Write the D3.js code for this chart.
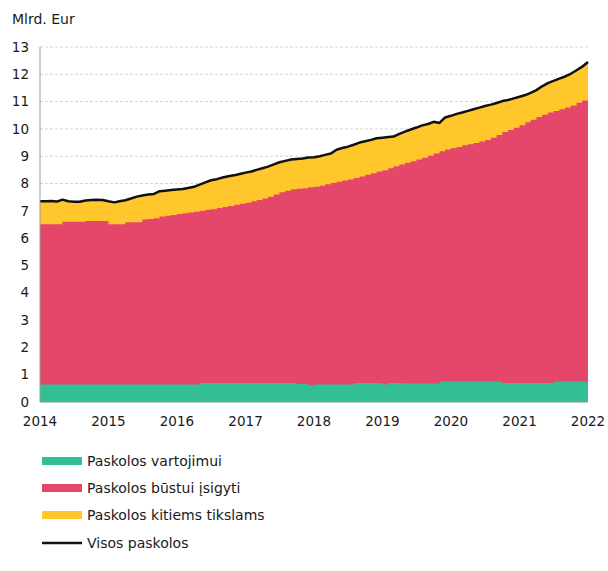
<!DOCTYPE html>
<html lang="lt">
<head>
  <meta charset="UTF-8">
  <title>Paskolos</title>
  <style>
    body { margin: 0; background: #fff; }
    svg text { font-family: "DejaVu Sans", Verdana, sans-serif; fill: #1a1a1a; }
  </style>
</head>
<body>
  <div id="chart"></div>
  <script src="https://d3js.org/d3.v7.min.js"></script>
  <script>
    // monthly, 2014-01 ... 2022-01
    const startYear = 2014;
    const yearTicks = [2014, 2015, 2016, 2017, 2018, 2019, 2020, 2021, 2022];
    const yTicks = [0, 1, 2, 3, 4, 5, 6, 7, 8, 9, 10, 11, 12, 13];

    const vartojimui = [
      0.64, 0.64, 0.64, 0.64, 0.64, 0.64, 0.64, 0.64, 0.64, 0.64, 0.64, 0.64,
      0.64, 0.64, 0.64, 0.64, 0.64, 0.64, 0.64, 0.64, 0.64, 0.64, 0.64, 0.64,
      0.64, 0.64, 0.64, 0.64, 0.70, 0.70, 0.70, 0.70, 0.70, 0.70, 0.70, 0.70,
      0.70, 0.70, 0.70, 0.70, 0.70, 0.70, 0.70, 0.70, 0.70, 0.66, 0.66, 0.60,
      0.64, 0.64, 0.64, 0.64, 0.64, 0.64, 0.64, 0.70, 0.70, 0.70, 0.70, 0.70,
      0.64, 0.70, 0.70, 0.70, 0.68, 0.68, 0.68, 0.68, 0.68, 0.68, 0.75, 0.75,
      0.75, 0.75, 0.75, 0.75, 0.75, 0.75, 0.75, 0.75, 0.75, 0.70, 0.70, 0.70,
      0.70, 0.70, 0.70, 0.70, 0.70, 0.70, 0.75, 0.75, 0.75, 0.75, 0.75, 0.75,
      0.85
    ];

    const bustui = [
      5.87, 5.87, 5.87, 5.87, 5.96, 5.96, 5.96, 5.96, 5.99, 5.99, 5.99, 5.99,
      5.87, 5.87, 5.87, 5.94, 5.94, 5.94, 6.04, 6.06, 6.09, 6.15, 6.18, 6.21,
      6.24, 6.27, 6.30, 6.33, 6.30, 6.34, 6.36, 6.40, 6.44, 6.48, 6.52, 6.56,
      6.60, 6.65, 6.70, 6.75, 6.82, 6.90, 6.98, 7.04, 7.09, 7.15, 7.17, 7.26,
      7.24, 7.28, 7.33, 7.38, 7.43, 7.47, 7.51, 7.50, 7.56, 7.62, 7.68, 7.74,
      7.85, 7.86, 7.93, 8.00, 8.08, 8.14, 8.20, 8.26, 8.34, 8.42, 8.43, 8.50,
      8.55, 8.59, 8.65, 8.69, 8.73, 8.79, 8.84, 8.93, 9.03, 9.19, 9.26, 9.34,
      9.43, 9.54, 9.64, 9.74, 9.82, 9.90, 9.91, 9.97, 10.03, 10.11, 10.21, 10.29,
      10.26
    ];

    const kitiems = [
      0.84, 0.84, 0.85, 0.83, 0.81, 0.75, 0.73, 0.73, 0.75, 0.77, 0.78, 0.77,
      0.84, 0.80, 0.84, 0.81, 0.87, 0.94, 0.88, 0.90, 0.89, 0.93, 0.92, 0.91,
      0.90, 0.89, 0.90, 0.91, 0.96, 1.00, 1.06, 1.06, 1.08, 1.09, 1.08, 1.09,
      1.10, 1.09, 1.10, 1.11, 1.10, 1.10, 1.10, 1.09, 1.09, 1.09, 1.09, 1.09,
      1.08, 1.08, 1.08, 1.08, 1.17, 1.19, 1.20, 1.22, 1.24, 1.23, 1.22, 1.22,
      1.19, 1.14, 1.09, 1.12, 1.14, 1.16, 1.17, 1.19, 1.16, 1.16, 1.04, 1.17,
      1.18, 1.21, 1.20, 1.22, 1.24, 1.24, 1.25, 1.21, 1.17, 1.13, 1.10, 1.08,
      1.05, 1.00, 0.98, 0.98, 1.04, 1.08, 1.10, 1.12, 1.14, 1.16, 1.19, 1.24,
      1.34
    ];

    const seriesNames = ['Paskolos vartojimui', 'Paskolos būstui įsigyti', 'Paskolos kitiems tikslams'];
    const lineName = 'Visos paskolos';
    const colors = ['#32bf96', '#e5476b', '#ffc72c'];

    const width = 608;
    const height = 571;
    const margin = { top: 47, right: 20, bottom: 169, left: 40 };

    const rows = vartojimui.map((v, i) => ({
      date: new Date(startYear, i, 1),
      vartojimui: v,
      bustui: bustui[i],
      kitiems: kitiems[i]
    }));

    const svg = d3.select('#chart')
      .append('svg')
      .attr('width', width)
      .attr('height', height);

    const x = d3.scaleTime()
      .domain([new Date(2014, 0, 1), new Date(2022, 0, 1)])
      .range([margin.left, width - margin.right]);

    const y = d3.scaleLinear()
      .domain([0, 13])
      .range([height - margin.bottom, margin.top]);

    // grid
    svg.append('g')
      .selectAll('line')
      .data(yTicks.filter(d => d > 0))
      .enter()
      .append('line')
      .attr('x1', margin.left)
      .attr('x2', width - margin.right)
      .attr('y1', d => y(d))
      .attr('y2', d => y(d))
      .attr('stroke', '#d4d4d4')
      .attr('stroke-dasharray', '3,2');

    const stack = d3.stack().keys(['vartojimui', 'bustui', 'kitiems']);
    const layers = stack(rows);

    // yellow top follows the total line, the others are monthly steps
    const areaSmooth = d3.area()
      .x(d => x(d.data.date))
      .y0(y(0))
      .y1(d => y(d[1]));

    const areaStep = d3.area()
      .curve(d3.curveStepAfter)
      .x(d => x(d.data.date))
      .y0(y(0))
      .y1(d => y(d[1]));

    svg.append('path')
      .datum(layers[2])
      .attr('fill', colors[2])
      .attr('d', areaSmooth);

    svg.append('path')
      .datum(layers[1])
      .attr('fill', colors[1])
      .attr('d', areaStep);

    svg.append('path')
      .datum(layers[0])
      .attr('fill', colors[0])
      .attr('d', areaStep);

    const line = d3.line()
      .x(d => x(d.data.date))
      .y(d => y(d[1]));

    svg.append('path')
      .datum(layers[2])
      .attr('fill', 'none')
      .attr('stroke', '#111')
      .attr('stroke-width', 2.5)
      .attr('stroke-linejoin', 'round')
      .attr('d', line);

    // axes
    svg.append('line')
      .attr('x1', margin.left)
      .attr('x2', margin.left)
      .attr('y1', y(13))
      .attr('y2', y(0))
      .attr('stroke', '#999');

    svg.append('line')
      .attr('x1', margin.left)
      .attr('x2', width - margin.right)
      .attr('y1', y(0) + 0.5)
      .attr('y2', y(0) + 0.5)
      .attr('stroke', '#c8c8c8');

    svg.append('g')
      .selectAll('text')
      .data(yTicks)
      .enter()
      .append('text')
      .attr('x', 29)
      .attr('y', d => y(d))
      .attr('dy', '0.35em')
      .attr('text-anchor', 'end')
      .style('font-size', '13.5px')
      .text(d => d);

    svg.append('g')
      .selectAll('text')
      .data(yearTicks)
      .enter()
      .append('text')
      .attr('x', d => x(new Date(d, 0, 1)))
      .attr('y', y(0) + 19)
      .attr('dy', '0.35em')
      .attr('text-anchor', 'middle')
      .style('font-size', '13.5px')
      .text(d => d);

    svg.append('text')
      .attr('x', 12)
      .attr('y', 24)
      .style('font-size', '14px')
      .text('Mlrd. Eur');

    // legend
    const legend = svg.append('g');
    const legendY = [461, 488, 515];

    seriesNames.forEach((name, i) => {
      legend.append('rect')
        .attr('x', 42)
        .attr('y', legendY[i] - 4)
        .attr('width', 40)
        .attr('height', 8)
        .attr('fill', colors[i]);
      legend.append('text')
        .attr('x', 87)
        .attr('y', legendY[i])
        .attr('dy', '0.35em')
        .style('font-size', '14px')
        .text(name);
    });

    legend.append('line')
      .attr('x1', 42)
      .attr('x2', 82)
      .attr('y1', 543)
      .attr('y2', 543)
      .attr('stroke', '#111')
      .attr('stroke-width', 2.5);
    legend.append('text')
      .attr('x', 87)
      .attr('y', 543)
      .attr('dy', '0.35em')
      .style('font-size', '14px')
      .text(lineName);
  </script>
</body>
</html>
